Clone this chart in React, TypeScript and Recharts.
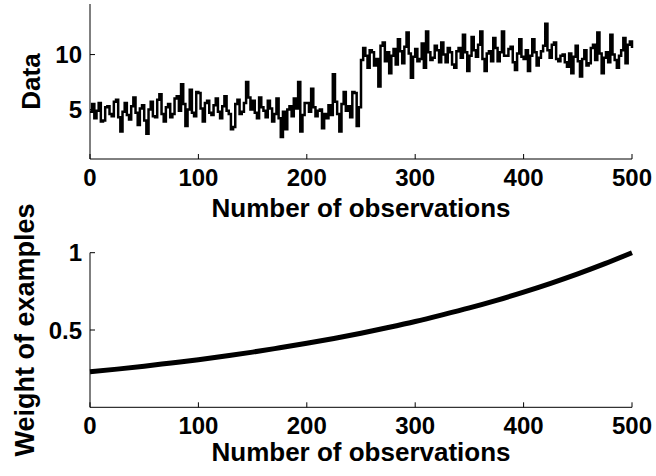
import { LineChart, Line, XAxis, YAxis, Label } from 'recharts'

// top panel: raw observations, one value every OBS_STEP observations
const OBS_STEP = 2
const observations = [
  4.8, 5.5, 4.2, 4.9, 5.6, 3.9, 4.0, 5.2, 5.3, 4.6,
  4.4, 5.7, 5.9, 4.3, 3.0, 4.8, 5.6, 4.5, 4.1, 5.3,
  6.1, 4.7, 3.6, 5.1, 5.4, 4.0, 2.8, 5.0, 5.7, 4.4,
  4.3, 5.9, 6.4, 4.6, 3.9, 5.2, 5.5, 4.3, 4.6, 6.0,
  6.2, 4.9, 7.3, 5.5, 3.5, 5.0, 6.8, 4.7, 4.4, 6.6,
  6.5, 5.1, 3.9, 5.6, 5.8, 4.7, 4.5, 5.4, 6.0, 4.8,
  4.2, 5.3, 6.2, 4.9, 4.6, 3.2, 3.4, 5.5, 5.9, 4.6,
  4.8, 5.6, 7.5, 6.1, 5.0, 5.8, 4.7, 4.2, 6.1, 5.2,
  4.9, 4.3, 5.8, 5.1, 3.9, 4.6, 6.0, 4.2, 2.5, 4.8,
  3.2, 5.0, 5.3, 4.4, 6.0, 5.1, 7.5, 3.0, 4.5, 5.6,
  5.6, 4.8, 6.9, 5.2, 4.4, 4.9, 5.0, 3.3, 4.6, 4.2,
  5.4, 4.5, 8.2, 5.7, 4.6, 3.0, 5.5, 6.6, 4.9, 5.3,
  4.3, 6.6, 6.5, 3.5, 5.2, 9.5, 10.6, 9.9, 8.8, 10.4,
  10.2, 9.0, 9.6, 7.1, 10.8, 11.1, 9.4, 10.2, 8.3, 9.9,
  10.5, 9.1, 11.4, 10.3, 9.2, 10.7, 12.0, 10.1, 7.9, 9.8,
  10.5, 9.4, 9.6, 11.0, 8.8, 12.1, 10.2, 9.5, 9.7, 10.8,
  10.4, 9.3, 11.1, 10.0, 9.3, 10.6, 10.2, 9.1, 8.8, 10.3,
  10.6, 9.7, 11.8, 10.2, 8.5, 9.9, 11.6, 10.4, 9.8, 10.9,
  12.1, 9.6, 8.5, 10.1, 10.3, 9.4, 11.5, 10.6, 9.4, 10.2,
  12.1, 9.9, 9.9, 10.5, 10.7, 9.3, 8.6, 10.1, 11.4, 9.8,
  9.6, 10.4, 8.5, 9.9, 11.4, 10.2, 9.0, 9.7, 10.3, 10.8,
  12.8, 10.4, 9.7, 10.9, 11.1, 9.6, 9.4, 9.9, 10.0, 9.3,
  8.9, 10.1, 8.3, 9.8, 10.8, 9.4, 8.0, 9.6, 10.4, 9.0,
  9.2, 10.6, 10.9, 9.5, 12.0, 10.1, 8.3, 9.7, 10.2, 9.3,
  11.8, 10.0, 9.5, 8.8, 9.9, 10.4, 11.5, 9.2, 10.9, 11.2,
  10.6,
]

// bottom panel: weight given to each example
const weightObs = [0, 25, 50, 75, 100, 125, 150, 175, 200, 225, 250, 275, 300, 325, 350, 375, 400, 425, 450, 475, 500]
const weights = [
  0.23, 0.247, 0.266, 0.287, 0.308, 0.332, 0.357, 0.385, 0.414, 0.445, 0.479,
  0.516, 0.555, 0.598, 0.643, 0.692, 0.745, 0.802, 0.863, 0.929, 1.0,
]

const xTicks = [0, 100, 200, 300, 400, 500]
const dataTicks = [5, 10]
const weightTicks = [0.5, 1]

const FONT = '"Liberation Sans", Arial, Helvetica, sans-serif'
const tickStyle = { fill: '#000', fontSize: 24, fontWeight: 700, fontFamily: FONT }
const titleStyle = { fill: '#000', fontSize: 26, fontWeight: 700, fontFamily: FONT }

function yTitle(text: string, cx: number, size = 26) {
  return (props: any) => {
    const { y, height } = props.viewBox
    const cy = y + height / 2
    return (
      <text
        x={cx}
        y={cy}
        transform={`rotate(-90 ${cx} ${cy})`}
        textAnchor="middle"
        dominantBaseline="central"
        style={{ ...titleStyle, fontSize: size }}
      >
        {text}
      </text>
    )
  }
}

export default function App() {
  const topData = observations.map((v, i) => ({ obs: i * OBS_STEP, value: v }))
  const bottomData = weightObs.map((o, i) => ({ obs: o, weight: weights[i] }))

  return (
    <div style={{ position: 'fixed', left: 0, top: 0, width: 656, height: 476, background: '#fff' }}>
      <div style={{ position: 'absolute', left: 0, top: 0 }}>
        <LineChart width={656} height={230} data={topData} margin={{ top: 4, right: 24, bottom: 0, left: 0 }}>
          <XAxis
            dataKey="obs"
            type="number"
            domain={[0, 500]}
            ticks={xTicks}
            height={71}
            stroke="#000"
            tickSize={-5}
            tickMargin={15}
            tick={tickStyle}
          >
            <Label value="Number of observations" position="insideBottom" offset={13} style={titleStyle} />
          </XAxis>
          <YAxis
            type="number"
            domain={[0.5, 14.6]}
            ticks={dataTicks}
            allowDataOverflow
            width={90}
            stroke="#000"
            tickSize={-5}
            tickMargin={13}
            tick={tickStyle}
          >
            <Label content={yTitle('Data', 31)} />
          </YAxis>
          <Line
            dataKey="value"
            type="stepAfter"
            stroke="#000"
            strokeWidth={2.5}
            dot={false}
            isAnimationActive={false}
          />
        </LineChart>
      </div>
      <div style={{ position: 'absolute', left: 0, top: 180 }}>
        <LineChart width={656} height={296} data={bottomData} margin={{ top: 72.7, right: 24, bottom: 0, left: 0 }}>
          <XAxis
            dataKey="obs"
            type="number"
            domain={[0, 500]}
            ticks={xTicks}
            height={68.7}
            stroke="#000"
            tickSize={-5}
            tickMargin={15}
            tick={tickStyle}
          >
            <Label value="Number of observations" position="insideBottom" offset={15} style={titleStyle} />
          </XAxis>
          <YAxis
            type="number"
            domain={[0, 1]}
            ticks={weightTicks}
            width={90}
            stroke="#000"
            tickSize={-5}
            tickMargin={13}
            tick={tickStyle}
          >
            <Label content={yTitle('Weight of examples', 25, 27)} />
          </YAxis>
          <Line
            dataKey="weight"
            type="monotone"
            stroke="#000"
            strokeWidth={5}
            dot={false}
            isAnimationActive={false}
          />
        </LineChart>
      </div>
    </div>
  )
}
